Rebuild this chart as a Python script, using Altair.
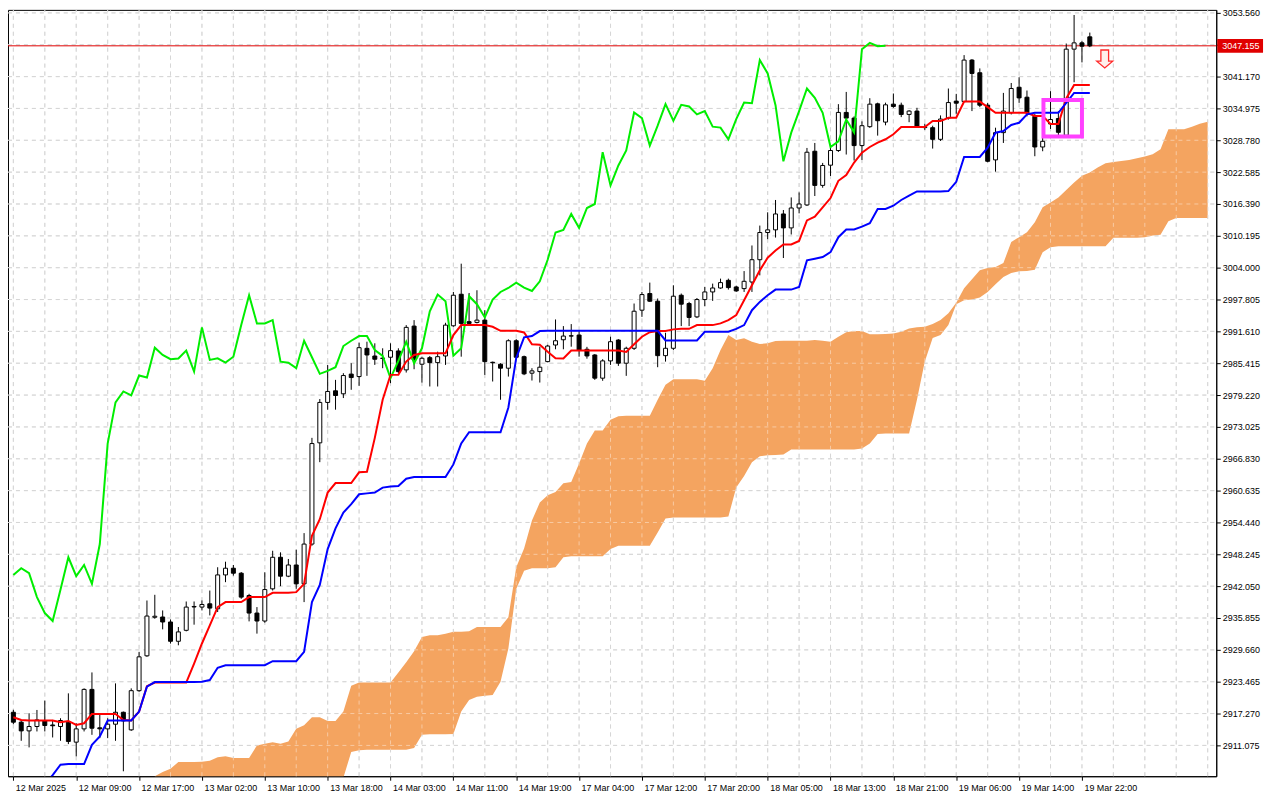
import json
import altair as alt
import pandas as pd

# ---------------- data ----------------
x_labels = ["12 Mar 2025", "12 Mar 09:00", "12 Mar 17:00", "13 Mar 02:00", "13 Mar 10:00",
            "13 Mar 18:00", "14 Mar 03:00", "14 Mar 11:00", "14 Mar 19:00", "17 Mar 04:00",
            "17 Mar 12:00", "17 Mar 20:00", "18 Mar 05:00", "18 Mar 13:00", "18 Mar 21:00",
            "19 Mar 06:00", "19 Mar 14:00", "19 Mar 22:00"]
LABEL_STEP = 8

y_ticks = [2911.075, 2917.270, 2923.465, 2929.660, 2935.855, 2942.050, 2948.245, 2954.440,
           2960.635, 2966.830, 2973.025, 2979.220, 2985.415, 2991.610, 2997.805, 3004.000,
           3010.195, 3016.390, 3022.585, 3028.780, 3034.975, 3041.170, 3047.365, 3053.560]

current_price = 3047.155

open_ = [
    2917.52, 2915.59, 2913.90, 2914.75, 2915.84, 2915.05, 2914.75, 2915.59, 2911.71, 2914.29,
    2921.97, 2914.50, 2914.29, 2915.20, 2917.52, 2914.10, 2921.72, 2928.50, 2936.00, 2936.05,
    2935.08, 2931.33, 2933.46, 2938.00, 2937.98, 2938.62, 2937.65, 2944.24, 2945.54, 2944.57,
    2940.23, 2936.82, 2935.27, 2941.53, 2947.67, 2943.99, 2946.17, 2942.50, 2950.24, 2969.93,
    2977.79, 2980.05, 2979.47, 2983.30, 2982.82, 2988.31, 2986.82, 2986.40, 2986.58, 2987.80,
    2984.12, 2992.64, 2985.22, 2986.50, 2985.53, 2986.83, 2992.70, 2998.83, 2993.50, 2993.35,
    2993.80, 2985.60, 2985.22, 2984.45, 2989.79, 2986.69, 2983.48, 2983.79, 2985.73, 2988.96,
    2989.98, 2990.75, 2990.90, 2988.13, 2987.02, 2982.51, 2985.87, 2989.93, 2985.42, 2988.32,
    2995.73, 2998.97, 2997.48, 2986.89, 2988.32, 2998.64, 2997.03, 2994.43, 2997.80, 2999.28,
    3000.05, 3001.54, 3000.25, 2999.93, 3001.21, 3005.55, 3010.84, 3011.36, 3014.45, 3011.74,
    3015.61, 3016.20, 3026.65, 3020.01, 3023.94, 3026.79, 3034.20, 3033.10, 3027.75, 3031.43,
    3035.87, 3032.32, 3035.81, 3035.61, 3033.81, 3034.46, 3031.40, 3031.23, 3028.97, 3033.10,
    3036.40, 3036.31, 3044.38, 3041.92, 3035.61, 3024.97, 3030.27, 3034.14, 3039.10, 3037.16,
    3033.43, 3027.48, 3031.97, 3033.01, 3029.75, 3046.51, 3047.73, 3048.90]

high = [
    2918.00, 2916.03, 2917.33, 2917.97, 2919.79, 2916.03, 2916.36, 2921.20, 2915.39, 2922.17,
    2925.27, 2917.00, 2916.36, 2923.14, 2917.66, 2922.17, 2929.27, 2939.26, 2940.37, 2937.33,
    2935.58, 2934.11, 2939.07, 2939.07, 2939.26, 2941.20, 2945.73, 2946.81, 2946.17, 2944.80,
    2940.56, 2937.98, 2944.76, 2948.94, 2948.63, 2947.34, 2949.14, 2952.37, 2970.90, 2978.45,
    2985.09, 2982.18, 2983.48, 2985.42, 2989.41, 2989.60, 2989.29, 2988.32, 2989.29, 2988.32,
    2992.83, 2993.80, 2986.69, 2986.83, 2987.66, 2993.28, 2999.28, 3004.78, 2999.08, 2999.61,
    2995.73, 2985.73, 2985.42, 2990.07, 2990.10, 2986.90, 2984.45, 2988.63, 2989.00, 2993.93,
    2992.64, 2993.03, 2991.86, 2988.60, 2987.20, 2986.20, 2990.57, 2990.10, 2988.63, 2997.03,
    2999.28, 3001.10, 2998.00, 2991.34, 3000.58, 2998.97, 2997.35, 2998.10, 3000.25, 3000.90,
    3001.87, 3001.87, 3000.50, 3003.34, 3008.32, 3012.19, 3014.77, 3017.17, 3015.22, 3017.67,
    3018.64, 3027.29, 3028.26, 3024.38, 3027.43, 3035.81, 3038.19, 3033.43, 3032.46, 3036.97,
    3036.10, 3036.10, 3037.88, 3036.10, 3034.65, 3035.10, 3032.00, 3031.62, 3033.62, 3038.85,
    3037.81, 3045.35, 3044.58, 3042.76, 3036.06, 3031.23, 3038.00, 3039.93, 3041.04, 3038.46,
    3033.94, 3029.55, 3038.33, 3034.46, 3047.60, 3053.15, 3048.06, 3049.73]

low = [
    2915.20, 2911.97, 2910.69, 2913.79, 2913.79, 2912.62, 2911.97, 2911.33, 2908.95, 2913.79,
    2913.13, 2912.49, 2912.49, 2911.97, 2906.04, 2913.90, 2921.50, 2928.30, 2935.72, 2933.65,
    2930.88, 2930.55, 2933.26, 2934.56, 2937.33, 2936.36, 2937.02, 2942.83, 2944.10, 2939.59,
    2935.20, 2932.82, 2934.94, 2941.20, 2942.05, 2943.80, 2941.53, 2938.95, 2949.91, 2966.17,
    2976.38, 2976.38, 2978.64, 2980.25, 2981.02, 2982.96, 2985.09, 2984.45, 2981.54, 2983.48,
    2983.60, 2984.25, 2981.66, 2980.89, 2980.89, 2985.09, 2992.50, 2986.69, 2992.83, 2993.16,
    2983.15, 2981.86, 2978.31, 2982.82, 2986.30, 2983.10, 2982.05, 2981.66, 2985.60, 2988.13,
    2988.13, 2988.63, 2986.69, 2986.30, 2982.18, 2982.00, 2985.09, 2984.90, 2982.96, 2987.99,
    2994.43, 2997.35, 2984.64, 2985.73, 2987.99, 2992.64, 2992.64, 2994.20, 2996.51, 2997.54,
    2999.90, 2999.74, 2999.30, 2999.28, 2999.28, 3002.51, 3009.55, 3009.86, 3005.88, 3010.45,
    3014.57, 3016.00, 3017.94, 3019.55, 3021.84, 3026.52, 3026.01, 3024.84, 3024.97, 3031.20,
    3029.69, 3031.70, 3035.10, 3033.29, 3032.30, 3031.20, 3030.80, 3027.17, 3028.65, 3032.80,
    3033.94, 3036.20, 3034.46, 3035.23, 3024.51, 3022.68, 3028.26, 3033.81, 3036.06, 3033.43,
    3025.68, 3026.65, 3030.98, 3029.68, 3029.55, 3040.07, 3043.93, 3046.90]

close = [
    2915.59, 2913.90, 2914.75, 2916.03, 2914.95, 2914.90, 2915.92, 2911.85, 2914.29, 2921.97,
    2914.42, 2914.30, 2915.20, 2917.52, 2915.84, 2921.72, 2928.30, 2936.24, 2936.20, 2935.08,
    2931.33, 2933.15, 2937.98, 2938.10, 2938.49, 2937.79, 2944.24, 2945.54, 2944.57, 2939.92,
    2936.82, 2935.27, 2941.39, 2947.67, 2943.99, 2946.17, 2942.50, 2950.24, 2969.79, 2977.79,
    2979.92, 2979.14, 2983.02, 2982.63, 2988.44, 2987.02, 2986.19, 2986.35, 2987.86, 2983.79,
    2992.39, 2986.06, 2986.38, 2985.53, 2986.69, 2992.83, 2998.64, 2993.16, 2993.16, 2993.80,
    2985.73, 2985.50, 2984.45, 2989.79, 2986.58, 2983.35, 2983.93, 2984.64, 2988.76, 2989.79,
    2990.70, 2990.70, 2987.99, 2986.83, 2982.51, 2985.87, 2989.60, 2985.42, 2988.32, 2995.53,
    2998.77, 2997.48, 2986.89, 2988.32, 2998.45, 2996.90, 2994.32, 2997.80, 2999.28, 3000.05,
    3001.10, 3000.13, 2999.48, 3001.35, 3005.55, 3010.84, 3011.36, 3014.45, 3011.74, 3015.61,
    3016.39, 3026.46, 3020.01, 3023.88, 3026.79, 3034.20, 3033.10, 3027.75, 3031.62, 3035.81,
    3032.59, 3035.68, 3035.36, 3033.81, 3034.46, 3031.43, 3031.25, 3028.97, 3032.91, 3036.12,
    3036.00, 3044.38, 3041.79, 3035.61, 3024.70, 3030.27, 3034.46, 3038.85, 3037.03, 3034.14,
    3027.48, 3028.58, 3032.82, 3030.33, 3046.51, 3047.73, 3047.09, 3047.155]

tenkan = [
    2916.55, 2916.03, 2915.92, 2915.92, 2915.92, 2915.92, 2915.59, 2915.84, 2915.06, 2915.39,
    2917.19, 2917.19, 2917.19, 2917.19, 2916.03, 2915.92, 2917.66, 2922.60, 2923.30, 2923.30,
    2923.30, 2923.30, 2923.30, 2927.00, 2930.90, 2934.42, 2937.98, 2938.95, 2938.95, 2938.95,
    2939.92, 2939.92, 2939.92, 2940.75, 2940.75, 2940.75, 2940.89, 2942.50, 2951.85, 2955.08,
    2960.25, 2962.10, 2962.10, 2962.10, 2964.20, 2964.30, 2970.90, 2978.31, 2983.15, 2983.15,
    2985.73, 2987.02, 2987.35, 2987.35, 2987.35, 2987.35, 2990.90, 2992.83, 2992.83, 2992.83,
    2992.83, 2992.50, 2991.73, 2991.73, 2991.73, 2991.40, 2989.10, 2989.00, 2987.66, 2986.38,
    2986.35, 2987.90, 2987.90, 2987.90, 2987.90, 2987.90, 2987.90, 2987.90, 2987.60, 2989.10,
    2990.57, 2991.45, 2991.70, 2991.70, 2992.00, 2992.10, 2992.10, 2992.83, 2992.83, 2992.83,
    2993.16, 2993.80, 2994.77, 2997.67, 3000.58, 3003.48, 3005.94, 3007.35, 3008.52, 3008.52,
    3009.20, 3013.20, 3013.93, 3015.74, 3017.55, 3020.90, 3022.01, 3024.45, 3026.38, 3027.48,
    3028.32, 3028.98, 3029.94, 3031.36, 3031.36, 3031.36, 3031.36, 3032.52, 3032.52, 3033.16,
    3033.16, 3036.31, 3036.31, 3036.31, 3035.23, 3034.14, 3034.14, 3034.14, 3034.14, 3034.14,
    3033.50, 3033.50, 3031.97, 3031.97, 3036.92, 3039.53, 3039.53, 3039.53]

kijun = [
    2903.50, 2903.50, 2903.50, 2903.50, 2903.50, 2905.30, 2907.32, 2907.45, 2907.45, 2907.45,
    2911.19, 2912.82, 2915.92, 2915.92, 2915.92, 2915.92, 2917.66, 2922.50, 2923.39, 2923.39,
    2923.39, 2923.39, 2923.39, 2923.39, 2923.47, 2923.78, 2926.18, 2926.68, 2926.68, 2926.68,
    2926.68, 2926.68, 2926.68, 2927.45, 2927.45, 2927.45, 2927.45, 2929.27, 2938.95, 2942.30,
    2949.27, 2953.30, 2956.38, 2958.00, 2959.92, 2960.10, 2960.25, 2961.22, 2961.45, 2961.53,
    2962.96, 2963.27, 2963.27, 2963.27, 2963.27, 2963.27, 2965.73, 2969.80, 2971.98, 2971.98,
    2971.98, 2971.98, 2971.98, 2976.80, 2986.44, 2990.45, 2990.70, 2991.67, 2991.73, 2991.73,
    2991.73, 2991.73, 2991.73, 2991.73, 2991.73, 2991.73, 2991.73, 2991.73, 2991.73, 2991.73,
    2991.73, 2991.73, 2991.73, 2989.85, 2989.85, 2989.85, 2989.85, 2989.85, 2991.53, 2991.53,
    2991.53, 2991.53, 2992.10, 2992.83, 2995.73, 2997.35, 2998.64, 2999.74, 2999.74, 2999.74,
    3000.25, 3005.42, 3005.74, 3006.06, 3007.02, 3009.93, 3011.42, 3011.42, 3012.00, 3012.64,
    3015.42, 3015.42, 3016.06, 3017.17, 3018.00, 3018.83, 3018.83, 3018.83, 3018.83, 3018.90,
    3020.70, 3025.55, 3025.55, 3025.55, 3027.35, 3030.26, 3030.59, 3031.75, 3032.19, 3033.82,
    3034.13, 3034.13, 3034.13, 3034.13, 3036.06, 3038.00, 3038.00, 3038.00]

CLOUD_START = 18          # first bar index at which the (forward shifted) cloud is visible
span_a = [
    2905.10, 2905.91, 2906.55, 2907.84, 2907.84, 2907.84, 2907.90, 2908.09, 2908.75, 2908.95,
    2908.62, 2908.62, 2908.62, 2911.08, 2911.38, 2911.71, 2911.38, 2911.85, 2914.30, 2915.00,
    2916.55, 2916.55, 2915.84, 2915.84, 2917.66, 2922.69, 2923.33, 2923.33, 2923.33, 2923.33,
    2923.33, 2925.27, 2927.25, 2929.40, 2932.18, 2932.50, 2932.50, 2932.80, 2933.20, 2933.20,
    2933.30, 2934.11, 2934.11, 2934.11, 2934.11, 2936.00, 2945.73, 2949.40, 2954.80, 2958.31,
    2959.72, 2960.36, 2962.05, 2962.30, 2965.92, 2969.79, 2972.31, 2972.31, 2974.44, 2975.08,
    2975.22, 2975.22, 2975.22, 2975.22, 2978.31, 2981.22, 2982.32, 2982.32, 2982.32, 2982.32,
    2981.99, 2984.45, 2987.99, 2990.90, 2989.93, 2990.25, 2989.60, 2989.15, 2989.29, 2989.73,
    2989.79, 2989.79, 2989.79, 2989.79, 2989.93, 2989.80, 2989.60, 2990.57, 2991.42, 2991.67,
    2991.67, 2991.03, 2991.03, 2991.10, 2991.22, 2991.53, 2992.19, 2992.39, 2992.50, 2993.03,
    2993.80, 2995.15, 2997.20, 3000.00, 3001.74, 3003.48, 3003.93, 3004.12, 3004.90, 3009.00,
    3009.93, 3010.90, 3012.83, 3015.74, 3016.70, 3017.67, 3019.10, 3020.57, 3021.87, 3022.51,
    3023.48, 3024.33, 3024.58, 3024.77, 3024.97, 3025.30, 3025.61, 3026.08, 3027.04, 3030.91,
    3030.91, 3030.91, 3031.42, 3032.00, 3032.38]
span_b = [
    2898.00, 2898.00, 2898.00, 2898.00, 2898.00, 2898.00, 2898.00, 2898.00, 2898.00, 2898.00,
    2898.00, 2898.00, 2898.00, 2898.00, 2898.00, 2898.00, 2898.00, 2898.00, 2898.00, 2898.00,
    2898.00, 2898.00, 2898.00, 2900.00, 2904.80, 2909.78, 2910.11, 2910.22, 2910.22, 2910.22,
    2910.22, 2910.22, 2910.22, 2910.55, 2913.13, 2913.26, 2913.26, 2913.26, 2913.30, 2917.66,
    2919.90, 2920.56, 2920.75, 2920.87, 2923.47, 2929.91, 2941.50, 2945.07, 2945.54, 2945.54,
    2945.54, 2945.73, 2947.67, 2947.86, 2947.86, 2947.86, 2947.86, 2947.86, 2949.27, 2949.91,
    2949.91, 2949.91, 2949.91, 2949.91, 2952.50, 2955.21, 2955.41, 2955.41, 2955.41, 2955.41,
    2955.41, 2955.41, 2955.41, 2955.60, 2961.22, 2963.46, 2966.17, 2967.33, 2967.53, 2967.55,
    2967.66, 2968.63, 2968.63, 2968.63, 2968.63, 2968.63, 2968.63, 2968.63, 2968.63, 2968.63,
    2968.82, 2969.79, 2971.67, 2971.73, 2971.73, 2971.73, 2971.73, 2978.31, 2985.73, 2990.30,
    2990.90, 2992.83, 2996.90, 2997.67, 2997.80, 2998.19, 2999.28, 3000.77, 3002.18, 3002.96,
    3003.29, 3003.34, 3003.61, 3007.02, 3007.99, 3008.18, 3008.18, 3008.18, 3008.18, 3008.18,
    3008.18, 3008.18, 3009.81, 3009.81, 3009.81, 3009.81, 3009.93, 3010.25, 3010.39, 3013.02,
    3013.68, 3013.68, 3013.68, 3013.68, 3013.68]

CHIKOU_SHIFT = 26

# annotations (in data units: bar index / price)
box_bars = [131.1, 136.0]
box_prices = [3029.5, 3036.6]
arrow_bar = [138.9]
arrow_price = [3044.6]

# ---------------- layout / style ----------------
W, H = 1214, 770
X_DOM = [-0.05, 152.46]
Y_DOM = [2905.08, 3054.15]
FONT = "Liberation Sans"
FONT_SIZE = 9
GRID_EVERY = 4

xs = alt.Scale(domain=X_DOM, nice=False, zero=False)
ys = alt.Scale(domain=Y_DOM, nice=False, zero=False)

n = len(close)
candles = pd.DataFrame({"bar": list(range(n)), "open": open_, "high": high,
                        "low": low, "close": close})
ichi = pd.DataFrame({"bar": list(range(n)), "tenkan": tenkan, "kijun": kijun})
cloud = pd.DataFrame({"bar": list(range(CLOUD_START, CLOUD_START + len(span_a))),
                      "a": span_a, "b": span_b})
chikou = pd.DataFrame({"bar": [i - CHIKOU_SHIFT for i in range(CHIKOU_SHIFT, n)],
                       "close": close[CHIKOU_SHIFT:]})
vgrid = pd.DataFrame({"bar": list(range(0, int(X_DOM[1]) + 1, GRID_EVERY))})
hgrid = pd.DataFrame({"price": y_ticks})
price_df = pd.DataFrame({"price": [current_price]})
box_df = pd.DataFrame({"x1": [box_bars[0]], "x2": [box_bars[1]],
                       "y1": [box_prices[0]], "y2": [box_prices[1]]})
arrow_df = pd.DataFrame({"bar": arrow_bar, "price": arrow_price})

label_pos = [i * LABEL_STEP for i in range(len(x_labels))]
label_expr = f"{json.dumps(x_labels)}[round(datum.value / {LABEL_STEP})]"

x_axis = alt.Axis(values=label_pos, labelExpr=label_expr, orient="bottom", grid=False,
                  ticks=True, tickSize=4, tickColor="black", domainColor="black",
                  labelAlign="left", labelBaseline="top", labelFont=FONT,
                  labelFontSize=FONT_SIZE, labelColor="black", labelPadding=3, labelOffset=2,
                  labelFlush=False, labelOverlap=False, title=None)
y_axis = alt.Axis(values=y_ticks, format=".3f", orient="right", grid=False, tickSize=4,
                  tickColor="black", domainColor="black", labelFont=FONT,
                  labelFontSize=FONT_SIZE, labelColor="black", labelPadding=2,
                  labelFlush=False, labelOverlap=False, title=None)

X = alt.X("bar:Q", scale=xs, axis=None)

grid_dash = [4, 4]


def grid_layers(color, opacity):
    v = alt.Chart(vgrid).mark_rule(color=color, strokeDash=grid_dash, strokeWidth=1,
                                   opacity=opacity).encode(
        x=X, y=alt.value(H), y2=alt.value(0))
    h = alt.Chart(hgrid).mark_rule(color=color, strokeDash=grid_dash, strokeWidth=1,
                                   opacity=opacity).encode(
        y=alt.Y("price:Q", scale=ys, axis=None), x=alt.value(0), x2=alt.value(W))
    return [v, h]


axes_layer = alt.Chart(candles).mark_point(opacity=0).encode(
    x=alt.X("bar:Q", scale=xs, axis=x_axis),
    y=alt.Y("close:Q", scale=ys, axis=y_axis))

cloud_layer = alt.Chart(cloud).mark_area(color="#F4A460", clip=True, interpolate="linear",
                                         opacity=1).encode(
    x=X, y=alt.Y("a:Q", scale=ys, axis=None), y2="b:Q")

price_line = alt.Chart(price_df).mark_rule(color="#e00000", strokeWidth=1).encode(
    y=alt.Y("price:Q", scale=ys, axis=None))

wicks = alt.Chart(candles).mark_rule(color="black", strokeWidth=1, clip=True).encode(
    x=X, y=alt.Y("low:Q", scale=ys, axis=None), y2="high:Q")

bodies = alt.Chart(candles).mark_bar(size=4, stroke="black", strokeWidth=1, clip=True).encode(
    x=X, y=alt.Y("open:Q", scale=ys, axis=None), y2="close:Q",
    fill=alt.condition("datum.close >= datum.open", alt.value("#ffffff"), alt.value("#000000")))

chikou_line = alt.Chart(chikou).mark_line(color="#00ee00", strokeWidth=2, clip=True).encode(
    x=X, y=alt.Y("close:Q", scale=ys, axis=None))

tenkan_line = alt.Chart(ichi).mark_line(color="#ff0000", strokeWidth=2, clip=True).encode(
    x=X, y=alt.Y("tenkan:Q", scale=ys, axis=None))

kijun_line = alt.Chart(ichi).mark_line(color="#0000ff", strokeWidth=2, clip=True).encode(
    x=X, y=alt.Y("kijun:Q", scale=ys, axis=None))

box = alt.Chart(box_df).mark_rect(fillOpacity=0, stroke="#ff40ff", strokeWidth=4).encode(
    x=alt.X("x1:Q", scale=xs, axis=None), x2="x2:Q",
    y=alt.Y("y1:Q", scale=ys, axis=None), y2="y2:Q")

arrow_path = "M-0.43,-1 L0.43,-1 L0.43,0.25 L0.89,0.25 L0,1 L-0.89,0.25 L-0.43,0.25 Z"
arrow = alt.Chart(arrow_df).mark_point(shape=arrow_path, size=324, filled=True,
                                       fill="#fff0ec", stroke="#ff2a2a", strokeWidth=1.3,
                                       opacity=1).encode(
    x=X, y=alt.Y("price:Q", scale=ys, axis=None))

label_box = alt.Chart(price_df).mark_point(
    shape="M-1,-0.3 L1,-0.3 L1,0.3 L-1,0.3 Z", size=46 * 46, filled=True,
    color="#e00000", opacity=1, strokeWidth=0).encode(
    x=alt.value(W + 24), y=alt.Y("price:Q", scale=ys, axis=None))

label_text = alt.Chart(price_df).mark_text(align="left", baseline="middle", color="white",
                                           font=FONT, fontSize=FONT_SIZE).encode(
    x=alt.value(W + 6), y=alt.Y("price:Q", scale=ys, axis=None),
    text=alt.Text("price:Q", format=".3f"))

layers = ([axes_layer] + grid_layers("#b8b8b8", 1.0) + [cloud_layer]
          + grid_layers("#ffffff", 0.42)
          + [price_line, wicks, bodies, chikou_line, tenkan_line, kijun_line, box, arrow,
             label_box, label_text])

chart = alt.layer(*layers).resolve_axis(x="independent", y="independent").properties(
    width=W, height=H,
    autosize=alt.AutoSizeParams(type="none"),
    padding={"left": 0, "top": 0, "right": 56, "bottom": 20},
    background="white",
).configure_view(stroke="black", strokeWidth=1)

chart.save("out.html", embed_options={"renderer": "svg", "actions": False})
